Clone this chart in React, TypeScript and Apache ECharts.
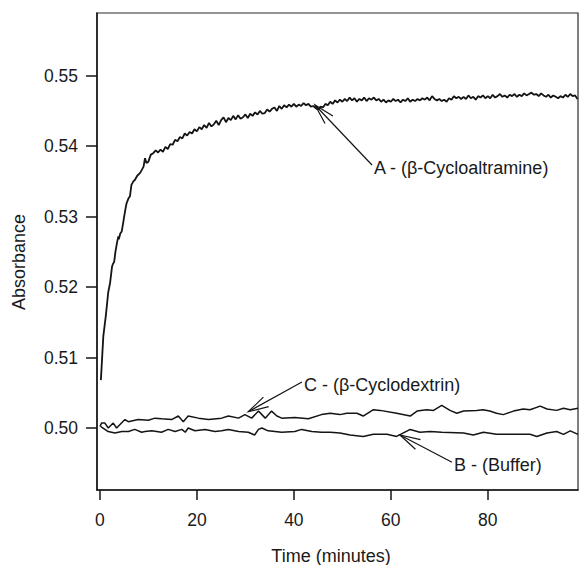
import React, { useEffect, useRef } from "react";
import * as echarts from "echarts";

// ---- axes ----
const xTicks = [0, 20, 40, 60, 80];
const yTicks = [0.5, 0.51, 0.52, 0.53, 0.54, 0.55];
const xMin = -0.6;
const xMax = 98.6;
const yMin = 0.4912;
const yMax = 0.5589;
const xTitle = "Time (minutes)";
const yTitle = "Absorbance";

// ---- curve A: beta-Cycloaltramine ----
const timeA = [
  0.2, 0.5, 0.7, 1.0, 1.2, 1.5, 1.7, 2.1, 2.5, 2.7, 2.95, 3.2, 3.5, 3.8, 3.9, 4.2, 4.5, 4.8, 5.0, 5.3,
  5.5, 5.9, 6.2, 6.5, 6.9, 7.2, 7.7, 8.3, 8.7, 9.0, 9.3, 9.6,
  10, 10.5, 11, 11.5, 12, 12.5, 13, 13.5, 14, 14.5,
  15, 15.5, 16, 16.5, 17, 17.5, 18, 18.5, 19, 19.5,
  20, 20.5, 21, 21.5, 22, 22.5, 23, 23.5, 24, 24.5,
  25, 25.5, 26, 26.5, 27, 27.5, 28, 28.5, 29, 29.5,
  30, 30.5, 31, 31.5, 32, 32.5, 33, 33.5, 34, 34.5,
  35, 35.5, 36, 36.5, 37, 37.5, 38, 38.5, 39, 39.5,
  40, 40.5, 41, 41.5, 42, 42.5, 43, 43.5, 44, 44.5,
  45, 45.5, 46, 46.5, 47, 47.5, 48, 48.5, 49, 49.5,
  50, 50.5, 51, 51.5, 52, 52.5, 53, 53.5, 54, 54.5,
  55, 55.5, 56, 56.5, 57, 57.5, 58, 58.5, 59, 59.5,
  60, 60.5, 61, 61.5, 62, 62.5, 63, 63.5, 64, 64.5,
  65, 65.5, 66, 66.5, 67, 67.5, 68, 68.5, 69, 69.5,
  70, 70.5, 71, 71.5, 72, 72.5, 73, 73.5, 74, 74.5,
  75, 75.5, 76, 76.5, 77, 77.5, 78, 78.5, 79, 79.5,
  80, 80.5, 81, 81.5, 82, 82.5, 83, 83.5, 84, 84.5,
  85, 85.5, 86, 86.5, 87, 87.5, 88, 88.5, 89, 89.5,
  90, 90.5, 91, 91.5, 92, 92.5, 93, 93.5, 94, 94.5,
  95, 95.5, 96, 96.5, 97, 97.5, 98, 98.5,
];
const absA = [
  0.5068, 0.5105, 0.513, 0.5147, 0.5158, 0.5178, 0.5192, 0.5206, 0.5229, 0.5233, 0.5236, 0.525, 0.5262, 0.5272, 0.5268, 0.5276, 0.5279, 0.5291, 0.53, 0.5312,
  0.5319, 0.5326, 0.5329, 0.5345, 0.535, 0.5352, 0.5358, 0.5362, 0.5367, 0.5371, 0.5383, 0.5376,
  0.5378, 0.5388, 0.539, 0.5394, 0.5391, 0.5395, 0.5392, 0.5399, 0.5396, 0.5403,
  0.5402, 0.5409, 0.5407, 0.5413, 0.5411, 0.5418, 0.5415, 0.542, 0.5418, 0.5424,
  0.5421, 0.5427, 0.5424, 0.543, 0.5426, 0.5433, 0.5428, 0.5431, 0.5436, 0.543,
  0.5437, 0.5441, 0.5434, 0.544, 0.5437, 0.5443, 0.5438, 0.5444, 0.5439, 0.5441,
  0.5445, 0.544, 0.5446, 0.5443, 0.5448, 0.5445, 0.545, 0.5446, 0.5447, 0.5452,
  0.5449, 0.5453, 0.5455, 0.545, 0.5457, 0.5453, 0.5458, 0.5455, 0.5459, 0.5456,
  0.546, 0.5456, 0.5459, 0.5457, 0.5461, 0.5458, 0.546, 0.5456, 0.5457, 0.5454,
  0.5452, 0.5456, 0.5455, 0.546, 0.5458, 0.5463, 0.546, 0.5465, 0.5462, 0.5466,
  0.5463, 0.5467, 0.5464, 0.5469, 0.5465, 0.5468, 0.5463, 0.5467, 0.5465, 0.5469,
  0.5464, 0.5468, 0.5466, 0.5469, 0.5465, 0.5467, 0.5463, 0.5466, 0.5462, 0.5465,
  0.5463, 0.5467, 0.5464, 0.5466, 0.5462, 0.5466, 0.5464, 0.5468, 0.5463, 0.5466,
  0.5464, 0.5467, 0.5465, 0.5468, 0.5466, 0.5469, 0.5465, 0.5471, 0.5467, 0.5465,
  0.5467, 0.5464, 0.5466, 0.5463, 0.5468, 0.5466, 0.5471, 0.5468, 0.547, 0.5467,
  0.547, 0.5467, 0.5472, 0.5468, 0.547, 0.5466, 0.5471, 0.5469, 0.5472, 0.5468,
  0.5471, 0.5468, 0.5473, 0.5469, 0.5471, 0.5474, 0.547, 0.5472, 0.5469, 0.5473,
  0.5471, 0.5474, 0.547, 0.5473, 0.5471, 0.5475, 0.5472, 0.5474, 0.5476, 0.5473,
  0.5474, 0.5471, 0.5475, 0.5472, 0.547, 0.5473, 0.5469, 0.5472, 0.547, 0.5468,
  0.5471, 0.5469, 0.5473, 0.547, 0.5474, 0.5471, 0.5472, 0.5467,
];

// ---- curve B: buffer ----
const timeB = [
  0.2, 1.7, 3.1, 4.5, 5.9, 7.2, 8.6, 9.3, 10.7, 12.7, 14.1, 15.5, 16.9, 17.6, 18.2, 19.6, 21.7, 23.7, 25.1, 26.5,
  28.6, 30.6, 31.9, 32.7, 33.4, 34.7, 37.5, 40.2, 41.6, 43.7, 45.7, 47.5, 49.5, 51.6, 54.3, 56.4, 59.2, 61.2, 64.0, 66.0,
  68.1, 70.5, 75.0, 77.0, 79.1, 81.8, 85.3, 88.7, 90.1, 92.2, 94.2, 95.6, 97.0, 98.6,
];
const absB = [
  0.5002, 0.4995, 0.4993, 0.4995, 0.4995, 0.4998, 0.4994, 0.4995, 0.4996, 0.4994, 0.4998, 0.4995, 0.4998, 0.4994, 0.5, 0.4996, 0.4998, 0.4995, 0.4996, 0.4998,
  0.4995, 0.4994, 0.499, 0.4998, 0.5, 0.4996, 0.4994, 0.4995, 0.4998, 0.4995, 0.4994, 0.4994, 0.4993, 0.499, 0.4988, 0.4991, 0.4991, 0.4988, 0.4998, 0.4994,
  0.4995, 0.4994, 0.4993, 0.499, 0.4994, 0.4991, 0.4991, 0.4991, 0.4988, 0.4993, 0.4995, 0.4991, 0.4996, 0.4991,
];

// ---- curve C: beta-Cyclodextrin ----
const timeC = [
  0.0, 0.34, 1.03, 1.72, 2.75, 3.44, 5.16, 5.85, 7.91, 9.98, 11.35, 12.73, 14.8, 16.17, 17.2, 18.2, 20.3, 22.4, 25.1, 26.5,
  28.6, 29.9, 31.3, 32.7, 33.4, 34.1, 35.4, 36.5, 37.5, 40.2, 43.0, 45.7, 47.5, 49.5, 50.9, 53.0, 54.3, 56.4, 57.8, 61.2,
  64.0, 65.4, 67.4, 68.8, 70.5, 72.2, 73.6, 75.0, 77.7, 79.0, 80.4, 81.8, 83.2, 85.3, 87.3, 88.7, 90.8, 92.2, 94.2, 95.6,
  97.0, 98.6,
];
const absC = [
  0.5002, 0.5007, 0.5007, 0.5, 0.5007, 0.5, 0.5012, 0.5009, 0.5012, 0.5011, 0.5014, 0.5013, 0.5012, 0.5017, 0.5009, 0.5017, 0.5014, 0.5012, 0.5014, 0.5017,
  0.5014, 0.5019, 0.5014, 0.5024, 0.5019, 0.5014, 0.5024, 0.5017, 0.5014, 0.5015, 0.5013, 0.5019, 0.5021, 0.5019, 0.5021, 0.5021, 0.5017, 0.5026, 0.5025, 0.5021,
  0.5017, 0.5024, 0.5026, 0.5025, 0.5032, 0.5025, 0.5021, 0.5024, 0.5025, 0.5026, 0.5024, 0.5021, 0.5019, 0.5024, 0.5027, 0.5026, 0.5031, 0.5027, 0.5025, 0.5028,
  0.5026, 0.5028,
];

// ---- annotations (arrow tip -> label anchor, in data units) ----
const annoText = ["A - (β-Cycloaltramine)", "C - (β-Cyclodextrin)", "B - (Buffer)"];
const annoTipT = [44.36, 30.6, 61.89];
const annoTipV = [0.54584, 0.50231, 0.49901];
const annoLabelT = [56.32, 41.88, 72.82];
const annoLabelV = [0.5369, 0.5061, 0.49471];

const FONT = "'Liberation Sans', Arial, Helvetica, sans-serif";
const INK = "#141414";

export default function App() {
  const ref = useRef<HTMLDivElement>(null);

  useEffect(() => {
    if (!ref.current) return;
    const chart = echarts.init(ref.current, null, { renderer: "svg" });

    const lineSeries = (name: string, t: number[], v: number[], w: number) => ({
      name,
      type: "line",
      data: t.map((x, i) => [x, v[i]]),
      showSymbol: false,
      symbol: "none",
      lineStyle: { color: INK, width: w },
      silent: true,
      z: 3,
    });

    const annoData = annoText.map((_, i) => [annoTipT[i], annoTipV[i], annoLabelT[i], annoLabelV[i]]);

    chart.setOption({
      animation: false,
      backgroundColor: "#ffffff",
      grid: {
        left: 97,
        right: 1,
        top: 13,
        bottom: 75,
        show: true,
        borderColor: "#2a2a2a",
        borderWidth: 1.2,
        backgroundColor: "transparent",
      },
      xAxis: {
        type: "value",
        min: xMin,
        max: xMax,
        splitLine: { show: false },
        axisLine: { show: true, onZero: false, lineStyle: { color: INK, width: 1.5 } },
        axisTick: {
          show: true,
          inside: false,
          length: 10,
          customValues: xTicks,
          lineStyle: { color: INK, width: 1.5 },
        },
        axisLabel: {
          show: true,
          customValues: xTicks,
          margin: 21,
          fontSize: 17.5,
          fontFamily: FONT,
          color: "#1a1a1a",
          formatter: (v: number) => String(Math.round(v)),
        },
      },
      yAxis: {
        type: "value",
        min: yMin,
        max: yMax,
        splitLine: { show: false },
        axisLine: { show: true, onZero: false, lineStyle: { color: INK, width: 1.5 } },
        axisTick: {
          show: true,
          inside: false,
          length: 11,
          customValues: yTicks,
          lineStyle: { color: INK, width: 1.5 },
        },
        axisLabel: {
          show: true,
          customValues: yTicks,
          margin: 19,
          fontSize: 17.5,
          fontFamily: FONT,
          color: "#1a1a1a",
          formatter: (v: number) => v.toFixed(2),
        },
      },
      graphic: [
        {
          type: "text",
          x: 331,
          y: 556,
          style: {
            text: xTitle,
            align: "center",
            verticalAlign: "middle",
            fontSize: 18,
            fontFamily: FONT,
            fill: "#1a1a1a",
          },
        },
        {
          type: "text",
          x: 19,
          y: 262,
          rotation: Math.PI / 2,
          style: {
            text: yTitle,
            align: "center",
            verticalAlign: "middle",
            fontSize: 18,
            fontFamily: FONT,
            fill: "#1a1a1a",
          },
        },
      ],
      series: [
        lineSeries("A - (β-Cycloaltramine)", timeA, absA, 1.8),
        lineSeries("B - (Buffer)", timeB, absB, 1.5),
        lineSeries("C - (β-Cyclodextrin)", timeC, absC, 1.5),
        {
          type: "custom",
          coordinateSystem: "cartesian2d",
          clip: false,
          silent: true,
          z: 5,
          encode: { x: [0, 2], y: [1, 3] },
          data: annoData,
          renderItem: (params: any, api: any) => {
            const tip = api.coord([api.value(0), api.value(1)]);
            const lab = api.coord([api.value(2), api.value(3)]);
            const end = [lab[0] - 1, lab[1] - 3];
            const ang = Math.atan2(end[1] - tip[1], end[0] - tip[0]);
            const len = 21;
            const spread = (15 * Math.PI) / 180;
            const a1 = [tip[0] + len * Math.cos(ang + spread), tip[1] + len * Math.sin(ang + spread)];
            const a2 = [tip[0] + len * Math.cos(ang - spread), tip[1] + len * Math.sin(ang - spread)];
            const ls = { stroke: INK, lineWidth: 1.2, fill: null };
            return {
              type: "group",
              children: [
                { type: "line", shape: { x1: end[0], y1: end[1], x2: tip[0], y2: tip[1] }, style: ls },
                { type: "polyline", shape: { points: [a1, tip, a2] }, style: ls },
                {
                  type: "text",
                  x: lab[0] + 1,
                  y: lab[1],
                  style: {
                    text: annoText[params.dataIndex],
                    align: "left",
                    verticalAlign: "middle",
                    fontSize: 18,
                    fontFamily: FONT,
                    fill: "#1a1a1a",
                  },
                },
              ],
            };
          },
        },
      ],
    });

    return () => {
      chart.dispose();
    };
  }, []);

  return (
    <div
      ref={ref}
      style={{ position: "fixed", left: 0, top: 0, width: 579, height: 565, background: "#ffffff" }}
    />
  );
}
